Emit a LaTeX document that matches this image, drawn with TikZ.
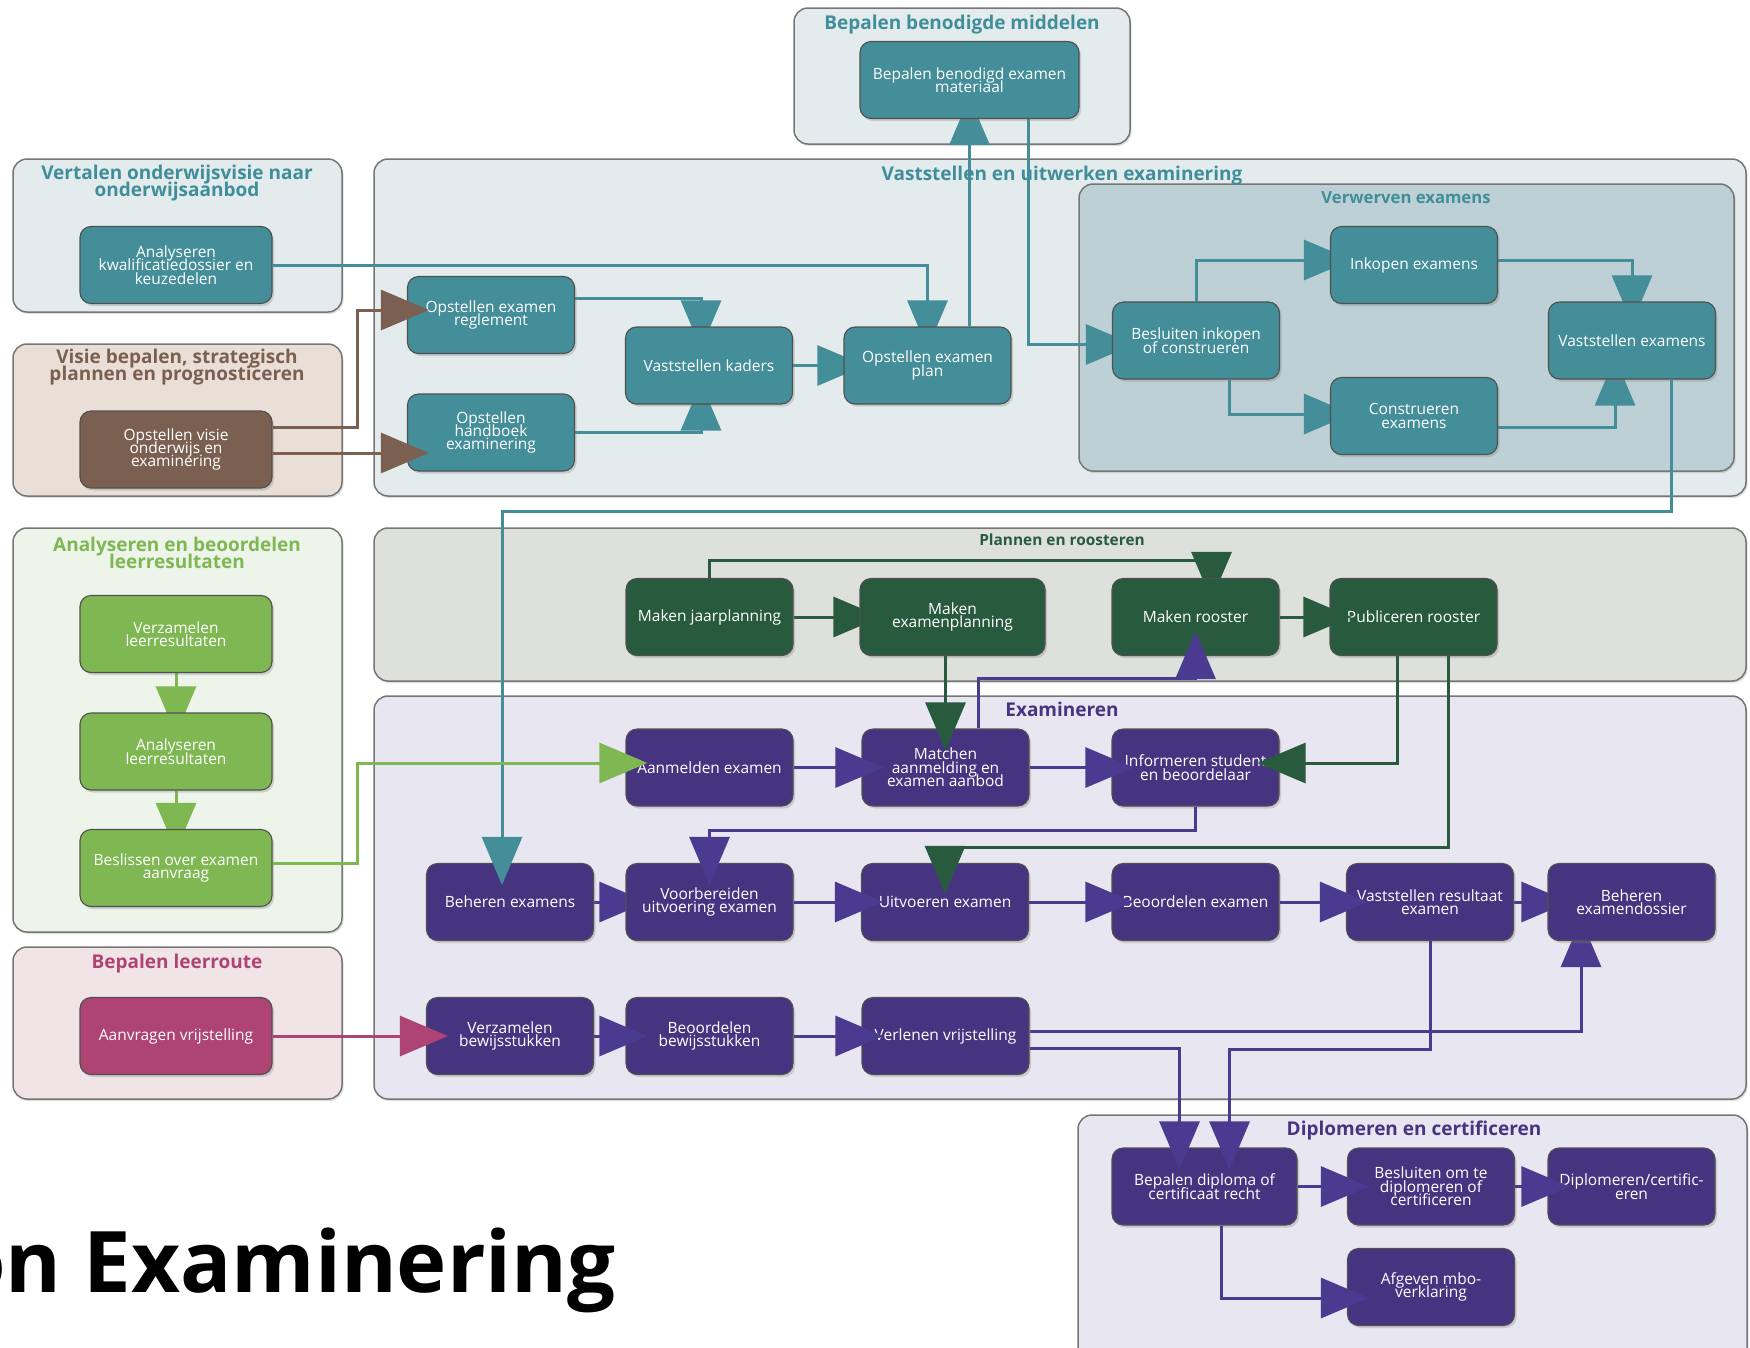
\documentclass[tikz,border=0pt]{standalone}
\usepackage{fontspec}
\setmainfont{Open Sans}
\usetikzlibrary{arrows.meta,shadows}

\pgfdeclarelayer{groups}
\pgfdeclarelayer{under}
\pgfdeclarelayer{over}
\pgfsetlayers{groups,under,main,over}

% process colours
\definecolor{tealN}{HTML}{438E98}
\definecolor{tealG}{HTML}{E3EBED}
\definecolor{tealI}{HTML}{BCD0D5}
\definecolor{tealT}{HTML}{3F8E99}
\definecolor{brownN}{HTML}{7B6052}
\definecolor{brownG}{HTML}{EADFD7}
\definecolor{greenN}{HTML}{7FB853}
\definecolor{greenG}{HTML}{EDF4EA}
\definecolor{dgreenN}{HTML}{285A3E}
\definecolor{dgreenG}{HTML}{DEE0DC}
\definecolor{purpN}{HTML}{473481}
\definecolor{purpA}{HTML}{4A3B90}
\definecolor{purpG}{HTML}{E8E6F0}
\definecolor{pinkN}{HTML}{AE4473}
\definecolor{pinkG}{HTML}{F1E4E7}
\definecolor{nodeline}{HTML}{505050}
\definecolor{grpline}{HTML}{767676}

% tight leading, lines may touch
\newcommand{\boxfont}{\fontsize{15.5}{13.4}\selectfont\lineskiplimit=-50pt\lineskip=0pt}
\newcommand{\grpfont}{\bfseries\fontsize{19}{16.8}\selectfont\lineskiplimit=-50pt\lineskip=0pt}

\tikzset{
  box/.style={rounded corners=11pt, draw=nodeline, line width=1.1pt,
    minimum width=167pt, minimum height=77pt, inner sep=0pt,
    align=center, text=white, font=\boxfont,
    drop shadow={shadow xshift=2pt, shadow yshift=-2.5pt, opacity=0.3}},
  wide/.style={minimum width=192pt},
  tealbox/.style={box, fill=tealN},
  brownbox/.style={box, fill=brownN},
  greenbox/.style={box, fill=greenN},
  dgreenbox/.style={box, fill=dgreenN},
  purpbox/.style={box, fill=purpN},
  pinkbox/.style={box, fill=pinkN},
  grp/.style={rounded corners=14pt, draw=grpline, line width=1.5pt,
    drop shadow={shadow xshift=1.5pt, shadow yshift=-2pt, opacity=0.25}},
  grptitle/.style={inner sep=0pt, align=center, font=\grpfont},
  conn/.style={line width=3pt, -{Triangle[length=48pt,width=40pt]},
    shorten >=-22pt},
  tealc/.style={conn, draw=tealN},
  brownc/.style={conn, draw=brownN},
  greenc/.style={conn, draw=greenN},
  dgreenc/.style={conn, draw=dgreenN},
  purpc/.style={conn, draw=purpA},
  pinkc/.style={conn, draw=pinkN},
}

\begin{document}
\begin{tikzpicture}[x=1pt,y=-1pt]
\useasboundingbox (0,0) rectangle (1750,1347);

% ---------- swimlane groups ----------
\begin{pgfonlayer}{groups}
  \fill[white] (0,0) rectangle (1750,1347);
  \path[grp, fill=tealG]  (794,8)    rectangle (1130,144);
  \path[grp, fill=tealG]  (13,159)   rectangle (342,312);
  \path[grp, fill=brownG] (13,344)   rectangle (342,496);
  \path[grp, fill=tealG]  (374,159)  rectangle (1746,496);
  \path[grp, fill=tealI]  (1079,184) rectangle (1734,471);
  \path[grp, fill=greenG] (13,528)   rectangle (342,932);
  \path[grp, fill=dgreenG](374,528)  rectangle (1746,681);
  \path[grp, fill=purpG]  (374,696)  rectangle (1746,1099);
  \path[grp, fill=pinkG]  (13,947)   rectangle (342,1099);
  \path[grp, fill=purpG]  (1078,1115) rectangle (1747,1380);

  \node[grptitle, text=tealT] (tBBM) at (962,24.5) {Bepalen benodigde middelen};
  \node[grptitle, text=tealT] (tVER) at (177,183) {Vertalen onderwijsvisie naar\\onderwijsaanbod};
  \node[grptitle, text=brownN] (tVIS) at (177,367) {Visie bepalen, strategisch\\plannen en prognosticeren};
  \node[grptitle, text=tealT] (tVU) at (1062,175.5) {Vaststellen en uitwerken examinering};
  \node[grptitle, text=tealT, font=\bfseries\fontsize{16.7}{16}\selectfont] (tVE) at (1406,198) {Verwerven examens};
  \node[grptitle, text=greenN] (tAB) at (177,553) {Analyseren en beoordelen\\leerresultaten};
  \node[grptitle, text=dgreenN, font=\bfseries\fontsize{15.4}{15}\selectfont] (tPR) at (1062,540) {Plannen en roosteren};
  \node[grptitle, text=purpN] (tEX) at (1062,709.5) {Examineren};
  \node[grptitle, text=pinkN] (tBL) at (177,963.5) {Bepalen leerroute};
  \node[grptitle, text=purpN] (tDC) at (1414,1130.5) {Diplomeren en certificeren};

  \node[anchor=base west, inner sep=0pt, font=\bfseries\fontsize{85}{90}\selectfont]
    (title) at (-47,1292) {on Examinering};
\end{pgfonlayer}

% ---------- activities ----------
\node[tealbox, minimum width=219pt] (bbm) at (969.5,80) {Bepalen benodigd examen\\materiaal};
\node[tealbox, wide] (akd) at (176,265) {Analyseren\\kwalificatiedossier en\\keuzedelen};
\node[brownbox, wide] (ovo) at (176,449.5) {Opstellen visie\\onderwijs en\\examinering};
\node[tealbox] (oer) at (491,315) {Opstellen examen\\reglement};
\node[tealbox] (ohe) at (491,432.5) {Opstellen\\handboek\\examinering};
\node[tealbox] (vka) at (709,365.5) {Vaststellen kaders};
\node[tealbox] (oep) at (927.5,365.5) {Opstellen examen\\plan};
\node[tealbox] (bik) at (1196,340.5) {Besluiten inkopen\\of construeren};
\node[tealbox] (ike) at (1414,265) {Inkopen examens};
\node[tealbox] (cex) at (1414,416) {Construeren\\examens};
\node[tealbox] (vex) at (1632,340.5) {Vaststellen examens};

\node[dgreenbox] (mjp) at (709.5,617) {Maken jaarplanning};
\node[dgreenbox, minimum width=185pt] (mep) at (952.5,617) {Maken\\examenplanning};
\node[dgreenbox] (mro) at (1195.5,617) {Maken rooster};
\node[dgreenbox] (pro) at (1413.5,617) {Publiceren rooster};

\node[purpbox] (aan) at (709.5,767.5) {Aanmelden examen};
\node[purpbox] (mat) at (945.5,767.5) {Matchen\\aanmelding en\\examen aanbod};
\node[purpbox] (inf) at (1195.5,767.5) {Informeren student\\en beoordelaar};
\node[purpbox] (bex) at (510,902) {Beheren examens};
\node[purpbox] (vbu) at (709.5,902) {Voorbereiden\\uitvoering examen};
\node[purpbox] (uit) at (945,902) {Uitvoeren examen};
\node[purpbox] (boe) at (1195.5,902) {Beoordelen examen};
\node[purpbox] (vre) at (1430,902) {Vaststellen resultaat\\examen};
\node[purpbox] (bed) at (1631.5,902) {Beheren\\examendossier};
\node[purpbox] (vbs) at (510,1036) {Verzamelen\\bewijsstukken};
\node[purpbox] (bbs) at (709.5,1036) {Beoordelen\\bewijsstukken};
\node[purpbox] (vvr) at (945.5,1036) {Verlenen vrijstelling};

\node[greenbox, wide] (vlr) at (176,634) {Verzamelen\\leerresultaten};
\node[greenbox, wide] (alr) at (176,751.5) {Analyseren\\leerresultaten};
\node[greenbox, wide] (boa) at (176,868) {Beslissen over examen\\aanvraag};
\node[pinkbox, wide] (avr) at (176,1036) {Aanvragen vrijstelling};

\node[purpbox, minimum width=185pt] (bpd) at (1204.5,1186.5) {Bepalen diploma of\\certificaat recht};
\node[purpbox] (bod) at (1431,1186.5) {Besluiten om te\\diplomeren of\\certificeren};
\node[purpbox] (dce) at (1631.5,1186.5) {Diplomeren/certific-\\eren};
\node[purpbox] (amv) at (1431,1287) {Afgeven mbo-\\verklaring};

% ---------- flows passing beneath the activities ----------
\begin{pgfonlayer}{under}
  \draw[tealc] (akd.east) -| (oep.north);
  \draw[tealc] ([yshift=17pt]oer.east) -| ([xshift=-8pt]vka.north);
  \draw[tealc] (ohe.east) -| ([xshift=-8pt]vka.south);
  \draw[tealc] (vka.east) -- (oep.west);
  \draw[tealc] (bbm.south |- oep.north) -- (bbm.south);
  \draw[tealc] ([xshift=58.5pt]bbm.south) |- ([yshift=-4pt]bik.west);
  \draw[tealc] (bik.north) |- ([yshift=5pt]ike.west);
  \draw[tealc] ([xshift=33pt]bik.south) |- ([yshift=2pt]cex.west);
  \draw[tealc] ([yshift=5pt]ike.east) -| (vex.north);
  \draw[tealc] ([yshift=-11pt]cex.east) -| ([xshift=-17pt]vex.south);

  \draw[greenc] (vlr.south) -- (alr.north);
  \draw[greenc] (alr.south) -- (boa.north);

  \draw[dgreenc] (mjp.north) -- ++(0,-17.5) -| ([xshift=16pt]mro.north);
  \draw[dgreenc] (mjp.east) -- (mep.west);

  \draw[purpc] (bex.east) -- (vbu.west);
  \draw[purpc] (vre.east) -- (bed.west);
  \draw[purpc] ([yshift=5pt]vvr.east) -| ([xshift=-50.5pt]bed.south);
\end{pgfonlayer}

% ---------- flows drawn over the activities ----------
\begin{pgfonlayer}{over}
  \draw[tealc] ([xshift=39pt]vex.south) -- ++(0,132) -| ([xshift=-8pt]bex.north);

  \draw[brownc] ([yshift=22.5pt]ovo.east) -- ++(85,0) |- ([yshift=5pt]oer.west);
  \draw[brownc] ([yshift=-3.5pt]ovo.east) -- (ohe.west |- 0,453);

  \draw[greenc] ([yshift=5pt]boa.east) -- ++(85,0) |- ([yshift=4.5pt]aan.west);
  \draw[pinkc] (avr.east) -- (vbs.west);

  \draw[dgreenc] (mat.north |- mep.south) -- (mat.north);
  \draw[dgreenc] (mro.east) -- (pro.west);
  \draw[dgreenc] ([xshift=-16.5pt]pro.south) |- ([yshift=4.5pt]inf.east);
  \draw[dgreenc, shorten >=-31pt] ([xshift=34.5pt]pro.south) -- ++(0,191) -| (uit.north);

  \draw[purpc, shorten >=-25pt] ([xshift=32.5pt]mat.north) -- ++(0,-50) -| (mro.south);
  \draw[purpc] (aan.east) -- (mat.west);
  \draw[purpc] (mat.east) -- (inf.west);
  \draw[purpc] (inf.south) -- ++(0,23.5) -| (vbu.north);
  \draw[purpc] (vbu.east) -- (uit.west);
  \draw[purpc] (uit.east) -- (boe.west);
  \draw[purpc] (boe.east) -- (vre.west);
  \draw[purpc] (vre.south) -- ++(0,108) -| ([xshift=25pt]bpd.north);
  \draw[purpc] (vbs.east) -- (bbs.west);
  \draw[purpc] (bbs.east) -- (vvr.west);
  \draw[purpc] ([yshift=-12pt]vvr.east) -| ([xshift=-25pt]bpd.north);
  \draw[purpc] (bpd.east) -- (bod.west);
  \draw[purpc] (bod.east) -- (dce.west);
  \draw[purpc] ([xshift=16.5pt]bpd.south) |- ([yshift=-11pt]amv.west);
\end{pgfonlayer}
\end{tikzpicture}
\end{document}
